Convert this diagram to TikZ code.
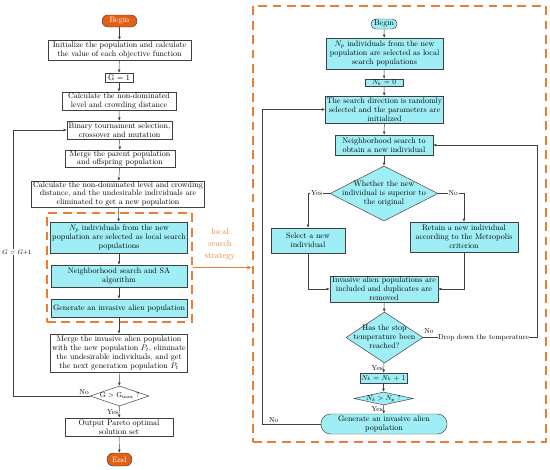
\documentclass[tikz,border=0pt]{standalone}
\usepackage{amsmath}
\usepackage{amssymb}
\usepackage{tikz}
\usetikzlibrary{calc,arrows.meta,positioning,shapes.geometric,fit}
\definecolor{lsorange}{RGB}{237,125,49}
\definecolor{termorange}{RGB}{226,95,20}
\definecolor{lscyan}{RGB}{160,238,245}
\definecolor{edge}{RGB}{64,64,64}
\newcommand{\dtext}[1]{\smash{\makebox[0pt]{\raisebox{-2.5pt}{\begin{tabular}{@{}c@{}}#1\end{tabular}}}}}

\begin{document}
\begin{tikzpicture}[
  x=1.25pt, y=-1.25pt,
  every node/.style={font=\fontsize{10}{11}\selectfont},
  wh/.style 2 args={minimum width=#1*1.25pt, minimum height=#2*1.25pt},
  box/.style={rectangle, draw=edge, line width=0.6pt, fill=white, align=center, inner xsep=2pt, inner ysep=0.5pt},
  cbox/.style={box, fill=lscyan},
  term/.style={rectangle, rounded corners=7.5pt, draw=edge, line width=0.6pt, fill=termorange, text=white, inner sep=1pt},
  rterm/.style={rectangle, rounded corners=6pt, draw=edge, line width=0.6pt, fill=lscyan, align=center, inner sep=1pt},
  decision/.style={diamond, draw=edge, line width=0.6pt, fill=white, inner sep=0pt},
  frame/.style={rectangle, draw=lsorange, line width=2pt, dash pattern=on 11pt off 7pt},
  lbl/.style={font=\small, inner sep=1pt},
  arr/.style={draw=edge, line width=0.6pt, -{Latex[length=4pt,width=3.5pt]}}
]
  \useasboundingbox (0,0) rectangle (550,469);

  \node[frame, wh={145}{109}] (lsframe) at (119.5,267.5) {};
  \node[frame, wh={293}{436}] (saframe) at (399.5,224) {};

  \node[term, wh={35}{12}] (begin) at (119.5,21) {Begin};
  \node[box, wh={143}{20}] (init) at (119.5,50) {Initialize the population and calculate\\the value of each objective function};
  \node[box, wh={28}{9}] (g1) at (119,77.5) {G = 1};
  \node[box, wh={114}{18}] (calc1) at (119,101) {Calculate the non-dominated\\level and crowding distance};
  \node[box, wh={103}{18}] (sel) at (119.5,130) {Binary tournament selection,\\crossover and mutation};
  \node[box, wh={110}{17}] (merge1) at (120,158.5) {Merge the parent population\\and offspring population};
  \node[box, wh={172}{26}] (calc2) at (118,194) {Calculate the non-dominated level and crowding\\distance, and the undesirable individuals are\\eliminated to get a new population};
  \node[cbox, wh={136}{31}] (lsinit) at (119,237.5) {$N_p$ individuals from the new\\population are selected as local search\\populations};
  \node[cbox, wh={136}{22}] (nsa) at (119,276) {Neighborhood search and SA\\algorithm};
  \node[cbox, wh={136}{18}] (alien) at (119,308) {Generate an invasive alien population};
  \node[box, wh={136}{38}] (merge2) at (119,353) {Merge the invasive alien population\\with the new population $P_t$, eliminate\\the undesirable individuals, and get\\the next generation population $P_t$};
  \node[decision, wh={59}{20}] (gmax) at (119.5,396) {\dtext{\small G $>$ G$_{\text{max}}$ ?}};
  \node[box, wh={108}{18}] (out) at (119,427) {Output Pareto optimal\\solution set};
  \node[term, rounded corners=8pt, wh={25}{13}] (end) at (119.5,459.5) {End};

  \node[text=lsorange, align=center, font=\fontsize{11}{15}\selectfont] (lsname) at (220,244) {local\\search\\strategy};

  \node[rterm, wh={26}{10}] (rbegin) at (384,24) {Begin};
  \node[cbox, wh={117}{31}] (rsel) at (384.5,53.5) {$N_p$ individuals from the new\\population are selected as local\\search populations};
  \node[cbox, wh={38}{7}, font=\small, inner ysep=0pt] (nk0) at (384,82.5) {$N_k$ = 0};
  \node[cbox, wh={117}{27}] (dir) at (384.5,109.5) {The search direction is randomly\\selected and the parameters are\\initialized};
  \node[cbox, wh={98}{20}] (nbr) at (384,145) {Neighborhood search to\\obtain a new individual};
  \node[decision, fill=lscyan, wh={108}{55}] (better) at (384,193.5) {\dtext{Whether the new\\individual is superior to\\the original}};
  \node[cbox, wh={74}{25}] (pick) at (308,240.5) {Select a new\\individual};
  \node[cbox, wh={108}{30}] (keep) at (464,237) {Retain a new individual\\according to the Metropolis\\criterion};
  \node[cbox, wh={108}{26}] (dedup) at (384,289) {Invasive alien populations are\\included and duplicates are\\removed};
  \node[decision, fill=lscyan, wh={77}{51}] (stop) at (384.5,337.5) {\dtext{Has the stop\\temperature been\\reached?}};
  \node[cbox, wh={39}{10}, font=\small, inner ysep=0pt] (nk1) at (383.5,378) {$N_k$ = $N_k$ + 1};
  \node[decision, fill=lscyan, wh={59}{13}] (nkp) at (383.5,398.5) {\dtext{\small $N_k > N_p$ ?}};
  \node[rterm, rounded corners=12pt, wh={126}{20}] (ralien) at (384,424) {Generate an invasive alien\\population};

  \coordinate (gloop) at (13,396);
  \coordinate (rloop) at (537,337.5);
  \coordinate (lloop) at (262,424);

  \draw[arr] (begin) -- (init);
  \draw[arr] (init) -- (g1);
  \draw[arr] (g1) -- (calc1);
  \draw[arr] (calc1) -- (sel);
  \draw[arr] (sel) -- (merge1);
  \draw[arr] (merge1) -- (calc2);
  \draw[arr] (calc2) -- (lsinit);
  \draw[arr] (lsinit) -- (nsa);
  \draw[arr] (nsa) -- (alien);
  \draw[arr] (alien) -- (merge2);
  \draw[arr] (merge2) -- (gmax);
  \draw[arr] (gmax) -- node[lbl, left]{Yes} (out);
  \draw[arr] (out) -- (end);
  \draw[arr] (gmax.west) -- node[lbl, pos=0, above left]{No} (gloop) |- node[pos=0.27, xshift=5pt, fill=white, inner sep=0.5pt, font=\footnotesize]{$G$ = $G$+1} (sel.west);

  \draw[draw=lsorange, line width=2pt, -{Latex[length=6pt,width=5pt]}] (lsframe.east) -- (lsframe.east -| saframe.west);

  \draw[arr] (rbegin) -- (rsel);
  \draw[arr] (rsel) -- (nk0);
  \draw[arr] (nk0) -- (dir);
  \draw[arr] (dir) -- (nbr);
  \draw[arr] (nbr) -- (better);
  \draw[arr] (better.west) -| node[lbl, pos=0.3, fill=white]{Yes} (pick.north);
  \draw[arr] (better.east) -| node[lbl, pos=0.29, fill=white]{No} (keep.north);
  \draw[arr] (pick.south) |- (dedup.west);
  \draw[arr] (keep.south) |- (dedup.east);
  \draw[arr] (dedup) -- (stop);
  \draw[arr] (stop.east) -- node[lbl, pos=0, above right, yshift=3pt]{No} node[pos=0.53, fill=white, inner sep=0.5pt, font=\small]{Drop down the temperature} (rloop) |- (nbr.east);
  \draw[arr] (stop) -- node[lbl, left]{Yes} (nk1);
  \draw[arr] (nk1) -- (nkp);
  \draw[arr] (nkp) -- node[lbl, left]{Yes} (ralien);
  \draw[arr] (ralien.west) -- node[lbl, pos=0.8, above]{No} (lloop) |- (dir.west);
\end{tikzpicture}
\end{document}
